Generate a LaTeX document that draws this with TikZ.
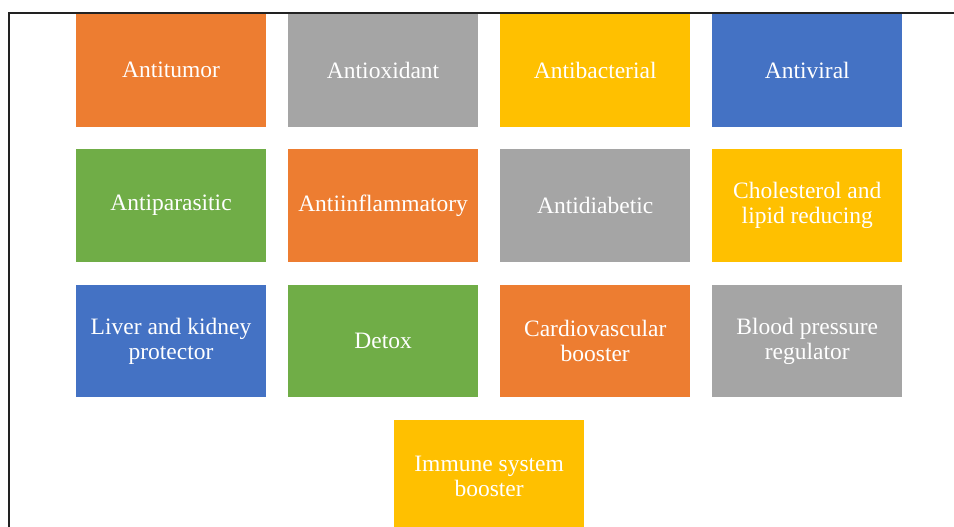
\documentclass[tikz,border=0pt]{standalone}
\usepackage{fontspec}
\setmainfont{Liberation Serif}
\usetikzlibrary{positioning,calc}
\definecolor{accorange}{HTML}{ED7D31}
\definecolor{accgray}{HTML}{A5A5A5}
\definecolor{accgold}{HTML}{FFC000}
\definecolor{accblue}{HTML}{4472C4}
\definecolor{accgreen}{HTML}{70AD47}
\definecolor{framegray}{HTML}{222222}

\begin{document}
\begin{tikzpicture}[x=1pt,y=-1pt,node distance=22.5pt and 21.7pt,
  box/.style={rectangle,minimum width=190pt,minimum height=112.5pt,inner sep=2pt,
    align=center,text=white,font=\fontsize{23.5}{25}\selectfont}]
  \useasboundingbox (0,0) rectangle (954,527);

  % first row
  \node[box,fill=accorange] (tumor) at (171,70.3) {Antitumor};
  \node[box,fill=accgray]   (oxid)  [right=of tumor] {Antioxidant};
  \node[box,fill=accgold]   (bact)  [right=of oxid]  {Antibacterial};
  \node[box,fill=accblue]   (viral) [right=of bact]  {Antiviral};

  % second row
  \node[box,fill=accgreen]  (parasit) [below=of tumor] {Antiparasitic};
  \node[box,fill=accorange] (inflam)  [below=of oxid]  {Antiinflammatory};
  \node[box,fill=accgray]   (diab)    [below=of bact]  {Antidiabetic};
  \node[box,fill=accgold]   (lipid)   [below=of viral] {Cholesterol and\\lipid reducing};

  % third row
  \node[box,fill=accblue]   (liver)  [below=of parasit] {Liver and kidney\\protector};
  \node[box,fill=accgreen]  (detox)  [below=of inflam]  {Detox};
  \node[box,fill=accorange] (cardio) [below=of diab]    {Cardiovascular\\booster};
  \node[box,fill=accgray]   (blood)  [below=of lipid]   {Blood pressure\\regulator};

  % last one, centred under detox and cardio
  \node[box,fill=accgold,anchor=north] (immune)
    at ($(detox.south)!.5!(cardio.south)+(0,22.3)$) {Immune system\\booster};

  \draw[line width=1.8pt,framegray] (9,527) -- (9,12.7) -- (954,12.7);
\end{tikzpicture}
\end{document}
